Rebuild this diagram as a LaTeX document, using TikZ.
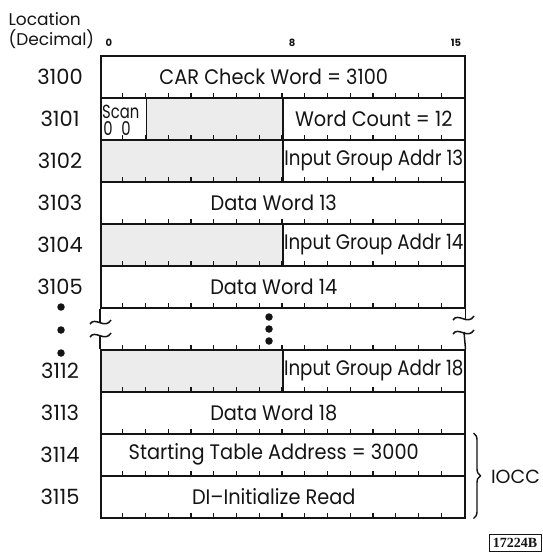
\documentclass[tikz,border=0pt]{standalone}
\usepackage{fontspec}
\setmainfont{Poppins}
\newfontfamily\fieldfont[FakeStretch=0.92, Ligatures=TeX]{Poppins}
\newfontfamily\narrowfont[FakeStretch=0.87]{Poppins}
\newfontfamily\scanfont[FakeStretch=0.78]{Poppins}
\newfontfamily\figfont{Liberation Serif}
\usetikzlibrary{positioning, calc, decorations.pathreplacing}
\definecolor{ink}{HTML}{141414}
\definecolor{shade}{HTML}{ECECEC}
\tikzset{
  word/.style={
    rectangle, draw=ink, line width=1.5pt,
    minimum width=364pt, minimum height=42pt,
    inner sep=0pt, anchor=north west,
    font=\fieldfont\fontsize{21}{21}\selectfont, text=ink
  },
  fullword/.style={word, execute at end node={\hspace*{18pt}}},
  halfword/.style={word, minimum width=182pt},
  shadedword/.style={halfword, fill=shade},
  addrword/.style={halfword, font=\narrowfont\fontsize{21}{21}\selectfont},
  loc/.style={font=\fontsize{21}{21}\selectfont, text=ink},
  heading/.style={font=\fontsize{17}{17}\selectfont, text=ink, anchor=west},
  bitno/.style={font=\fontsize{10}{10}\selectfont\bfseries, text=ink},
  scanlbl/.style={font=\scanfont\fontsize{19}{19}\selectfont, text=ink, inner sep=0pt},
  tickline/.style={line width=1.2pt, draw=ink},
  edge/.style={line width=1.5pt, draw=ink},
  bigdot/.style={circle, fill=ink, inner sep=0pt, minimum size=7.5pt},
  brace/.style={decorate, decoration={brace, amplitude=7pt}, line width=1.4pt, draw=ink},
}

\begin{document}
\begin{tikzpicture}[x=1pt, y=-1pt]
  \useasboundingbox (0,0) rectangle (542,554);

  % heading
  \node[heading] (hdrloc) at (5,19) {Location};
  \node[heading] (hdrdec) at (5,39) {(Decimal)};
  \node[bitno] (bit0) at (109,43) {0};
  \node[bitno] (bit8) at (292,43) {8};
  \node[bitno] (bit15) at (456,43) {15};

  % memory words
  \node[fullword] (w3100) at (100,55) {CAR Check Word = 3100};
  \node[word, minimum width=45.5pt] (scan) at (100,97) {};
  \node[scanlbl, anchor=west] (scantxt) at (102,112) {Scan};
  \node[scanlbl] (scanbit0) at (108,129) {0};
  \node[scanlbl] (scanbit1) at (126,129) {0};
  \node[word, minimum width=136.5pt, fill=shade] (w3101a) at (145.5,97) {};
  \node[halfword] (w3101b) at (282,97) {Word Count = 12};
  \node[shadedword] (w3102a) at (100,139) {};
  \node[addrword] (w3102b) at (282,139) {Input Group Addr 13};
  \node[fullword] (w3103) at (100,181) {Data Word 13};
  \node[shadedword] (w3104a) at (100,223) {};
  \node[addrword] (w3104b) at (282,223) {Input Group Addr 14};
  \node[fullword] (w3105) at (100,265) {Data Word 14};
  \node[shadedword] (w3112a) at (100,349) {};
  \node[addrword] (w3112b) at (282,349) {Input Group Addr 18};
  \node[fullword] (w3113) at (100,391) {Data Word 18};
  \node[fullword] (w3114) at (100,433) {Starting Table Address = 3000};
  \node[fullword] (w3115) at (100,475) {DI--Initialize Read};

  % bit ticks along the bottom of every word
  \foreach \r in {0,...,10}
    \foreach \b in {1,...,15}
      \draw[tickline] (100+22.75*\b, 97+42*\r) -- ++(0,-4.5);

  % locations
  \foreach \r/\num in {0/3100, 1/3101, 2/3102, 3/3103, 4/3104, 5/3105, 7/3112, 8/3113, 9/3114, 10/3115}
    \node[loc] (loc\num) at (60, 77+42*\r) {\num};

  % broken gap between 3105 and 3112
  \coordinate (gapl) at (w3105.south west);
  \coordinate (gapr) at (w3105.south east);
  \draw[edge] (gapl) -- ++(0,14);
  \draw[edge] (90,324) .. controls (95,316) and (105,330) .. (111,320);
  \draw[edge] (90,337) .. controls (95,329) and (105,343) .. (111,333);
  \draw[edge] (100,336) -- (w3112a.north west);
  \draw[edge] (gapr) -- ++(0,10);
  \draw[edge] (453,320) .. controls (458,312) and (468,326) .. (474,316);
  \draw[edge] (453,334) .. controls (458,326) and (468,340) .. (474,330);
  \draw[edge] (464,332) -- (w3112b.north east);

  \node[bigdot] (ldot1) at (61,307) {};
  \node[bigdot] (ldot2) at (61,330) {};
  \node[bigdot] (ldot3) at (61,353) {};
  \node[bigdot] (mdot1) at (269,317) {};
  \node[bigdot] (mdot2) at (269,329) {};
  \node[bigdot] (mdot3) at (269,341) {};

  % IOCC
  \draw[brace] ($(w3114.north east)+(8,0)$) -- ($(w3115.south east)+(8,0)$)
    coordinate[midway] (bracemid);
  \node[loc, font=\fontsize{19}{19}\selectfont, anchor=west] (iocc) at ($(w3114.south east)+(22,0)$) {IOCC};

  % figure number
  \node[draw=ink, line width=0.9pt, inner sep=2pt, minimum width=52pt, minimum height=17pt,
        font=\figfont\bfseries\fontsize{14}{14}\selectfont, text=ink]
    (figno) at (515,543) {17224B};
\end{tikzpicture}
\end{document}
